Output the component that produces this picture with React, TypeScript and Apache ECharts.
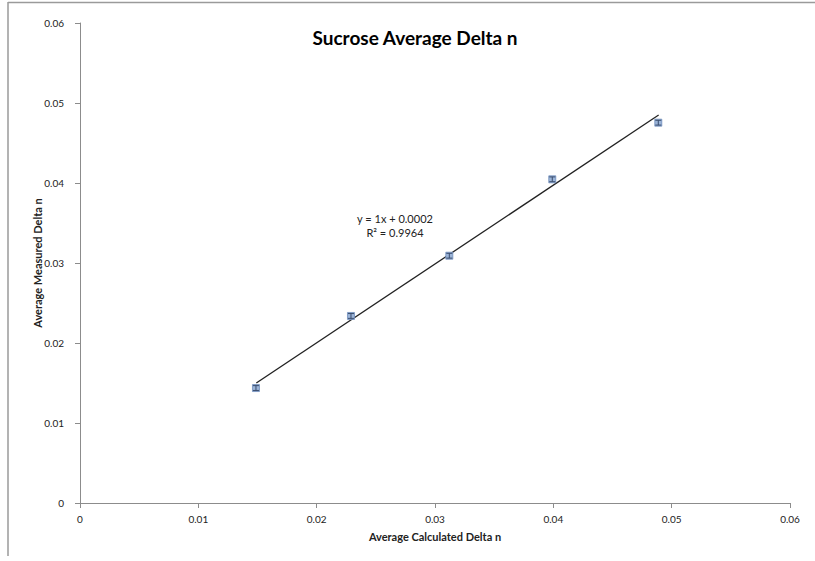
import React, { useEffect, useRef } from "react";
import * as echarts from "echarts";

const calculatedDeltaN = [0.01487, 0.0229, 0.03121, 0.03991, 0.04887];
const measuredDeltaN = [0.01437, 0.02338, 0.03091, 0.04046, 0.04754];
const errorHalfWidth = [0.0003, 0.0003, 0.0003, 0.0003, 0.0003];
const trendX = [0.0149, 0.0489];
const trendY = [0.0150, 0.0485];
const axisTicks = [0, 0.01, 0.02, 0.03, 0.04, 0.05, 0.06];
const titleText = "Sucrose Average Delta n";
const equationLines = ["y = 1x + 0.0002", "R\u00B2 = 0.9964"];

const FONT = "Lato, 'Open Sans', sans-serif";

export default function App() {
  const ref = useRef<HTMLDivElement>(null);
  useEffect(() => {
    if (!ref.current) return;
    const chart = echarts.init(ref.current, null, { renderer: "svg" });
    const fmt = (v: number) => (v === 0 ? "0" : v.toFixed(2));
    const axisCommon = {
      min: axisTicks[0],
      max: axisTicks[axisTicks.length - 1],
      interval: 0.01,
      splitLine: { show: false },
      nameMoveOverlap: false,
      axisLine: { lineStyle: { color: "#8c8c8c", width: 1 } },
      axisTick: { show: true, inside: false, length: 5, lineStyle: { color: "#8c8c8c" } },
      nameTextStyle: { fontFamily: FONT, fontSize: 11, fontWeight: "bold", color: "#222" },
    };
    chart.setOption({
      animation: false,
      backgroundColor: "#ffffff",
      grid: { left: 80, right: 25, top: 23, bottom: 58 },
      xAxis: {
        type: "value",
        ...axisCommon,
        name: "Average Calculated Delta n",
        nameLocation: "middle",
        nameGap: 28,
        axisLabel: { formatter: fmt, fontFamily: FONT, fontSize: 10, color: "#222", margin: 11 },
      },
      yAxis: {
        type: "value",
        ...axisCommon,
        name: "Average Measured Delta n",
        nameLocation: "middle",
        nameGap: 37,
        nameRotate: 90,
        axisLabel: { formatter: fmt, fontFamily: FONT, fontSize: 10, color: "#222", margin: 16 },
      },
      series: [
        {
          type: "line",
          data: trendX.map((x, i) => [x, trendY[i]]),
          showSymbol: false,
          symbol: "none",
          lineStyle: { color: "#222", width: 1.3 },
          z: 2,
        },
        {
          type: "custom",
          data: calculatedDeltaN.map((x, i) => [x, measuredDeltaN[i], errorHalfWidth[i]]),
          renderItem: (params: any, api: any) => {
            const x = api.value(0);
            const y = api.value(1);
            const e = api.value(2);
            const top = api.coord([x, y + e]);
            const bot = api.coord([x, y - e]);
            const c = api.coord([x, y]);
            const w = 3;
            return {
              type: "group",
              children: [
                { type: "rect", shape: { x: c[0] - 3.5, y: c[1] - 3.5, width: 7, height: 7 }, style: { fill: "#9bb4d8", stroke: "#6f8dbb", lineWidth: 0.8 } },
                { type: "line", shape: { x1: c[0], y1: top[1], x2: c[0], y2: bot[1] }, style: { stroke: "#3a4d6e", lineWidth: 1 } },
                { type: "line", shape: { x1: c[0] - w, y1: top[1], x2: c[0] + w, y2: top[1] }, style: { stroke: "#3a4d6e", lineWidth: 1 } },
                { type: "line", shape: { x1: c[0] - w, y1: bot[1], x2: c[0] + w, y2: bot[1] }, style: { stroke: "#3a4d6e", lineWidth: 1 } },
              ],
            };
          },
          z: 3,
        },
      ],
      graphic: [
        { type: "line", shape: { x1: 8, y1: 2.5, x2: 815, y2: 2.5 }, style: { stroke: "#9a9a9a", lineWidth: 1.5 } },
        { type: "line", shape: { x1: 8, y1: 2, x2: 8, y2: 556 }, style: { stroke: "#9a9a9a", lineWidth: 1.5 } },
        {
          type: "text",
          x: 415,
          y: 37,
          style: { text: titleText, textAlign: "center", textVerticalAlign: "middle", fontFamily: FONT, fontSize: 19, fontWeight: "bold", fill: "#000" },
        },
        {
          type: "text",
          x: 395,
          y: 218,
          style: { text: equationLines[0], textAlign: "center", textVerticalAlign: "middle", fontFamily: FONT, fontSize: 11, fill: "#222" },
        },
        {
          type: "text",
          x: 395,
          y: 232,
          style: { text: equationLines[1], textAlign: "center", textVerticalAlign: "middle", fontFamily: FONT, fontSize: 11, fill: "#222" },
        },
      ],
    });
    return () => chart.dispose();
  }, []);
  return <div ref={ref} style={{ width: 815, height: 561, position: "absolute", left: 0, top: 0 }} />;
}
